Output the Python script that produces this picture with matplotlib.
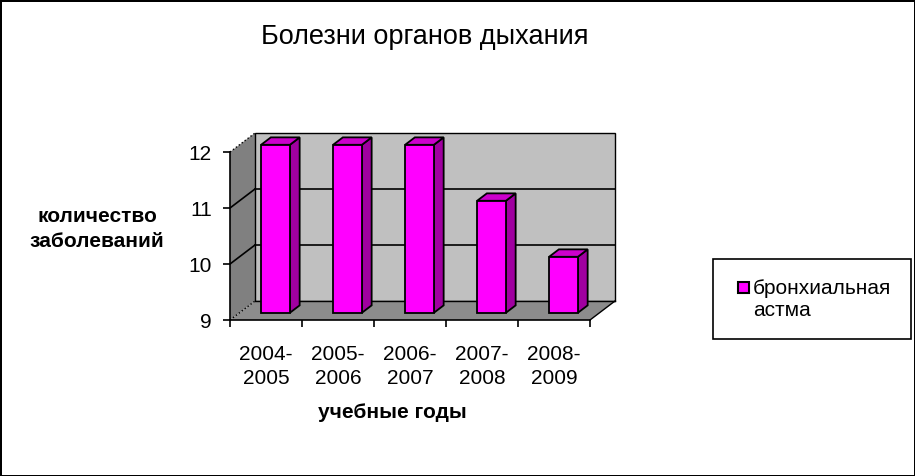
import matplotlib
matplotlib.use('Agg')
import matplotlib.pyplot as plt
from matplotlib.patches import Polygon, Rectangle

plt.rcParams['font.family'] = ['Liberation Sans', 'DejaVu Sans']

# data
years = ['2004-\n2005', '2005-\n2006', '2006-\n2007', '2007-\n2008', '2008-\n2009']
cases = [12, 12, 12, 11, 10]
series_name = 'бронхиальная\nастма'
y_ticks = [9, 10, 11, 12]

W, H = 915, 476
fig = plt.figure(figsize=(W / 100, H / 100), dpi=100, edgecolor='black', linewidth=2)
ax = fig.add_axes([230 / W, (H - 320) / H, 360 / W, 168 / H])
ax.set_xlim(-0.5, len(years) - 0.5)
ax.set_ylim(9, 12)

# 3d depth in pixels -> data units
DEPTH_X, DEPTH_Y = 25, 19
sx = ax.bbox.width / (ax.get_xlim()[1] - ax.get_xlim()[0])
sy = ax.bbox.height / (ax.get_ylim()[1] - ax.get_ylim()[0])
ddx, ddy = DEPTH_X / sx, DEPTH_Y / sy

def P(x, y, d):
    return (x + d * ddx, y + d * ddy)

def poly(pts, fc, ec='none', lw=1.0, z=1):
    ax.add_patch(Polygon(pts, closed=True, facecolor=fc, edgecolor=ec,
                         linewidth=lw, zorder=z, clip_on=False))

def line(a, b, ls='-', lw=1.0, z=1.5):
    ax.plot([a[0], b[0]], [a[1], b[1]], color='black', ls=ls, lw=lw,
            zorder=z, clip_on=False)

x0, x1 = ax.get_xlim()
y0, y1 = ax.get_ylim()

# walls and floor
poly([P(x0, y0, 0), P(x0, y1, 0), P(x0, y1, 1), P(x0, y0, 1)], '#808080')
poly([P(x0, y0, 1), P(x1, y0, 1), P(x1, y1, 1), P(x0, y1, 1)], '#C0C0C0', 'black', 1.0)
poly([P(x0, y0, 0), P(x1, y0, 0), P(x1, y0, 1), P(x0, y0, 1)], '#8C8C8C')
line(P(x1, y0, 0), P(x1, y0, 1))
line(P(x0, y0, 1), P(x1, y0, 1))
line(P(x0, y1, 0), P(x0, y1, 1), ls=':')
line(P(x0, y0, 0), P(x0, y0, 1), ls=':')
for v in y_ticks[1:-1]:
    line(P(x0, v, 0), P(x0, v, 1), lw=1.2)
    line(P(x0, v, 1), P(x1, v, 1), lw=1.2)

# bars
bw, d0, d1 = 0.2, 0.38, 0.77
for i, v in enumerate(cases):
    a, b = i - bw, i + bw
    poly([P(b, y0, d0), P(b, y0, d1), P(b, v, d1), P(b, v, d0)], '#A000A0', 'black', 1.3, 3)
    poly([P(a, v, d0), P(b, v, d0), P(b, v, d1), P(a, v, d1)], '#CC00CC', 'black', 1.3, 3)
    poly([P(a, y0, d0), P(b, y0, d0), P(b, v, d0), P(a, v, d0)], '#FF00FF', 'black', 1.3, 3)

# axes
for s in ['top', 'right']:
    ax.spines[s].set_visible(False)
ax.spines['left'].set_linewidth(1.2)
ax.spines['bottom'].set_linewidth(1.2)
ax.set_facecolor('none')
ax.set_yticks(y_ticks)
ax.tick_params(axis='y', direction='out', length=5, width=1.2, pad=8, labelsize=15)
ax.set_xticks([i - 0.5 for i in range(len(years) + 1)])
ax.set_xticklabels([])
ax.set_xticks(range(len(years)), minor=True)
ax.set_xticklabels(years, minor=True)
ax.tick_params(axis='x', which='major', direction='out', length=5, width=1.2)
ax.tick_params(axis='x', which='minor', length=0, pad=18, labelsize=15)
for t in ax.get_xticklabels(minor=True):
    t.set_linespacing(1.3)

# texts
fig.text(425 / W, 1 - 37 / H, 'Болезни органов дыхания', ha='center', va='center', fontsize=19.5)
fig.text(97 / W, 1 - 229 / H, 'количество\nзаболеваний', ha='center', va='center',
         fontsize=15, fontweight='bold', linespacing=1.4)
fig.text(392 / W, 1 - 413 / H, 'учебные годы', ha='center', va='center',
         fontsize=15, fontweight='bold')

# legend
fig.add_artist(Rectangle((713 / W, 1 - 339 / H), 198 / W, 80 / H, transform=fig.transFigure,
                         facecolor='white', edgecolor='black', linewidth=1.2))
fig.add_artist(Rectangle((738 / W, 1 - 293 / H), 11 / W, 11 / H, transform=fig.transFigure,
                         facecolor='#FF00FF', edgecolor='black', linewidth=1.5))
fig.text(753 / W, 1 - 299 / H, series_name, ha='left', va='center', fontsize=15, linespacing=1.2)

fig.savefig('out.png', dpi=100)
